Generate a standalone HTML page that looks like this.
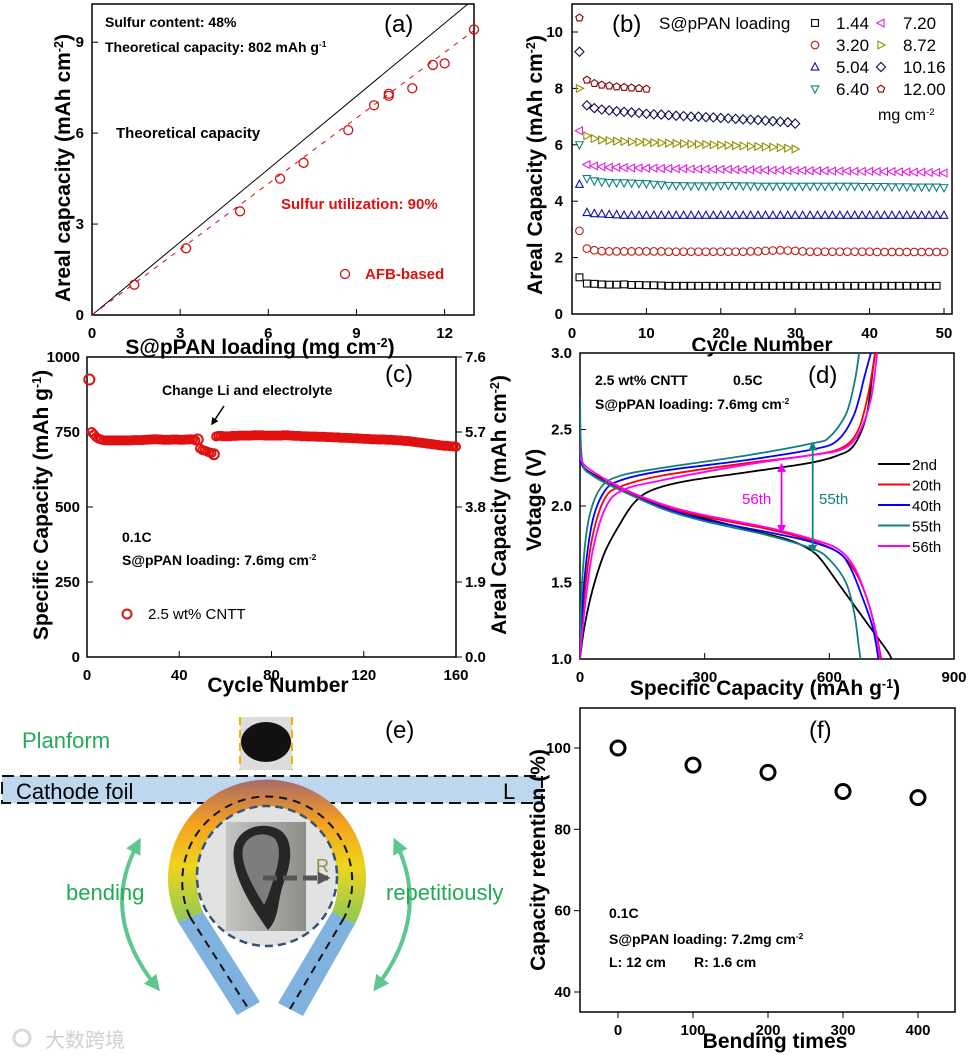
<!DOCTYPE html>
<html><head><meta charset="utf-8"><style>
html,body{margin:0;padding:0;background:#fff;}
svg{display:block;font-family:"Liberation Sans","Noto Sans CJK SC",sans-serif;}
.tk{font-weight:bold;font-size:15px;}
.ti{font-weight:bold;font-size:21px;}
</style></head><body>
<svg id="fig" width="970" height="1055" viewBox="0 0 970 1055" xmlns="http://www.w3.org/2000/svg">
<defs>
<linearGradient id="ringGrad" x1="0" y1="0" x2="0" y2="1">
<stop offset="0" stop-color="#a86a6a"/><stop offset="0.3" stop-color="#f5a020"/><stop offset="0.6" stop-color="#eed51c"/><stop offset="1" stop-color="#8cc85a"/>
</linearGradient>
<linearGradient id="imgGrad" x1="0" y1="0" x2="1" y2="0">
<stop offset="0" stop-color="#c4c4c2"/><stop offset="1" stop-color="#8d8d88"/>
</linearGradient>
<marker id="ahG" viewBox="0 0 10 10" refX="5" refY="5" markerWidth="4" markerHeight="4" orient="auto-start-reverse"><path d="M0,0L10,5L0,10z" fill="#5cc890"/></marker>
<marker id="ahM" viewBox="0 0 10 10" refX="8" refY="5" markerWidth="5" markerHeight="5" orient="auto-start-reverse"><path d="M0,0L10,5L0,10z" fill="#ee00ee"/></marker>
<marker id="ahT" viewBox="0 0 10 10" refX="8" refY="5" markerWidth="5" markerHeight="5" orient="auto-start-reverse"><path d="M0,0L10,5L0,10z" fill="#108080"/></marker>
<marker id="ahK" viewBox="0 0 10 10" refX="8" refY="5" markerWidth="5" markerHeight="5" orient="auto"><path d="M0,0L10,5L0,10z" fill="#000"/></marker>
<marker id="ahR" viewBox="0 0 10 10" refX="8" refY="5" markerWidth="2.6" markerHeight="2.6" orient="auto"><path d="M0,0L10,5L0,10z" fill="#555"/></marker>
</defs>

<g>
<text x="22" y="748" font-size="22" fill="#22aa55">Planform</text>
<text x="385" y="738" font-size="24">(e)</text>
<rect x="240" y="717" width="52" height="53" fill="#dcdcdc"/>
<ellipse cx="266" cy="742" rx="25" ry="20" fill="#111"/>
<line x1="240" y1="717" x2="240" y2="770" stroke="#f0b400" stroke-width="2" stroke-dasharray="8,5"/>
<line x1="292" y1="717" x2="292" y2="770" stroke="#f0b400" stroke-width="2" stroke-dasharray="8,5"/>
<rect x="2" y="776" width="540" height="27" fill="#bcd7ee" stroke="#111" stroke-width="2" stroke-dasharray="12,6"/>
<text x="16" y="799" font-size="22">Cathode foil</text>
<text x="503" y="799" font-size="22">L</text>
<polygon points="178,922 203,912 260,1002 237,1015" fill="#7fb2de"/>
<polygon points="355,924 332,912 278,1003 303,1016" fill="#7fb2de"/>
<path d="M178,922 A99,99 0 1 1 355,924 L332,912 A70,70 0 1 0 203,912 Z" fill="url(#ringGrad)"/>
<path d="M190,917 A85,85 0 1 1 344,918" fill="none" stroke="#111" stroke-width="2" stroke-dasharray="8,6"/>
<line x1="190" y1="917" x2="248" y2="1008" stroke="#111" stroke-width="2" stroke-dasharray="8,6"/>
<line x1="344" y1="918" x2="290" y2="1009" stroke="#111" stroke-width="2" stroke-dasharray="8,6"/>
<circle cx="267" cy="876" r="70" fill="#e2e2e2" stroke="#36527a" stroke-width="2.5" stroke-dasharray="8,5"/>
<rect x="226" y="822" width="80" height="109" fill="url(#imgGrad)"/>
<path d="M268,930 C250,905 230,872 234,848 C238,828 262,820 280,830 C294,840 292,862 284,882 C277,900 280,918 268,930 Z" fill="#262626"/>
<path d="M264,905 C250,882 240,862 243,848 C247,834 264,831 274,838 C282,846 279,862 274,878 C270,890 268,898 264,905 Z" fill="#7d7d7b"/>
<line x1="263" y1="878" x2="328" y2="878" stroke="#555" stroke-width="5" stroke-dasharray="14,6" marker-end="url(#ahR)"/>
<text x="316" y="872" font-size="18" fill="#9a8a40">R</text>
<path d="M137,845 Q100,915 155,985" fill="none" stroke="#5cc890" stroke-width="4" marker-start="url(#ahG)" marker-end="url(#ahG)"/>
<path d="M397,845 Q430,915 378,985" fill="none" stroke="#5cc890" stroke-width="4" marker-start="url(#ahG)" marker-end="url(#ahG)"/>
<text x="66" y="900" font-size="22" fill="#22aa55">bending</text>
<text x="386" y="900" font-size="22" fill="#22aa55">repetitiously</text>
<text x="45" y="1047" font-size="20" fill="#d0d0d0">大数跨境</text>
<circle cx="22" cy="1038" r="8" fill="none" stroke="#d8d8d8" stroke-width="3"/>
</g>
</svg>
<script>
// ---------- Panel (a) data ----------
const aLoading = [1.44,3.2,5.04,6.4,7.2,8.72,9.6,10.1,10.1,10.9,11.6,12.0,13.0];
const aCapacity = [1.0,2.2,3.42,4.5,5.02,6.1,6.92,7.23,7.3,7.48,8.25,8.3,9.42];
const aTheoSlope = [0.802];
const aFitSlope = [0.722];
const aXTicks = [0,3,6,9,12];
const aYTicks = [0,3,6,9];
// ---------- Panel (b) data ----------
const bLoadings = ["1.44","3.20","5.04","6.40","7.20","8.72","10.16","12.00"];
const b144 = [1.3,1.08,1.07,1.05,1.04,1.04,1.05,1.03,1.03,1.02,1.02,1.01,1.0,1.0,1.0,1.0,1.0,1.0,1.0,1.0,1.0,1.0,1.0,1.0,1.0,1.0,1.0,1.0,1.0,1.0,1.0,1.0,1.0,1.0,1.0,1.0,1.0,1.0,1.0,1.0,1.0,1.0,1.0,1.0,1.0,1.0,1.0,1.0,1.0];
const b320 = [2.95,2.32,2.26,2.23,2.22,2.22,2.22,2.22,2.22,2.22,2.22,2.22,2.21,2.21,2.21,2.21,2.21,2.21,2.21,2.21,2.21,2.21,2.21,2.22,2.22,2.24,2.25,2.26,2.25,2.24,2.22,2.21,2.21,2.21,2.21,2.21,2.21,2.21,2.21,2.21,2.2,2.2,2.2,2.2,2.2,2.2,2.2,2.2,2.2,2.2];
const b504 = [4.6,3.6,3.56,3.55,3.53,3.52,3.5,3.5,3.5,3.5,3.5,3.5,3.5,3.5,3.5,3.5,3.5,3.5,3.5,3.5,3.5,3.5,3.5,3.5,3.5,3.5,3.5,3.5,3.5,3.5,3.5,3.5,3.5,3.5,3.5,3.5,3.5,3.5,3.5,3.5,3.5,3.5,3.5,3.5,3.5,3.5,3.5,3.5,3.5,3.5];
const b640 = [6.0,4.8,4.72,4.68,4.66,4.65,4.65,4.64,4.63,4.62,4.6,4.58,4.56,4.55,4.55,4.54,4.54,4.54,4.54,4.55,4.56,4.55,4.54,4.54,4.53,4.53,4.53,4.53,4.53,4.53,4.53,4.53,4.53,4.53,4.53,4.53,4.53,4.53,4.52,4.52,4.52,4.52,4.51,4.51,4.51,4.5,4.5,4.5,4.5,4.48];
const b720 = [6.5,5.3,5.25,5.22,5.2,5.2,5.19,5.18,5.18,5.17,5.17,5.16,5.16,5.15,5.15,5.14,5.14,5.14,5.13,5.13,5.13,5.12,5.12,5.11,5.11,5.1,5.1,5.1,5.09,5.09,5.09,5.08,5.08,5.08,5.07,5.07,5.07,5.06,5.06,5.06,5.05,5.05,5.05,5.04,5.04,5.03,5.03,5.02,5.02,5.0];
const b872 = [8.0,6.32,6.22,6.17,6.15,6.13,6.12,6.11,6.1,6.09,6.08,6.07,6.06,6.05,6.04,6.03,6.02,6.01,6.0,5.99,5.98,5.97,5.96,5.95,5.94,5.93,5.92,5.9,5.88,5.85];
const b1016 = [9.3,7.4,7.3,7.25,7.22,7.19,7.17,7.15,7.13,7.1,7.08,7.07,7.05,7.03,7.02,7.0,7.0,6.98,6.97,6.95,6.94,6.92,6.9,6.89,6.88,6.86,6.84,6.82,6.8,6.75];
const b1200 = [10.5,8.3,8.18,8.12,8.09,8.06,8.04,8.02,8.0,7.98];
const bXTicks = [0,10,20,30,40,50];
const bYTicks = [0,2,4,6,8,10];
// ---------- Panel (c) data ----------
const cCapacity = [925,750,742,733,728,725,723,722,722,722,
722,722,722,722,722,722,722,722,722,723,
723,723,723,723,724,724,725,725,726,726,
725,725,724,724,724,724,725,725,725,724,
724,724,725,725,726,725,722,725,695,690,
688,685,682,680,676,735,737,737,736,736,
736,736,737,737,737,738,738,738,738,738,
738,739,739,739,739,739,738,738,738,738,
738,738,738,738,739,739,739,738,738,737,
737,737,736,736,736,735,735,735,735,734,
734,734,734,733,733,733,732,732,732,731,
731,731,730,730,729,729,729,728,728,727,
727,727,726,726,726,725,725,725,725,724,
724,724,723,723,722,722,721,720,720,719,
718,717,716,715,714,713,712,711,710,709,
708,707,706,705,704,704,703,702,702,701];
const cXTicks = [0,40,80,120,160];
const cYTicks = [0,250,500,750,1000];
const cRightTicks = ["0.0","1.9","3.8","5.7","7.6"];
// ---------- Panel (d) data ----------
const dCycles = ["2nd","20th","40th","55th","56th"];
const dColors = ["#000000","#ff0000","#0000ff","#108080","#ff00ff"];
const dDisCap = [
 [0,10,50,100,200,300,400,500,550,580,620,660,700,740,750],
 [0,20,100,200,300,450,550,620,660,690,710,725],
 [0,20,100,200,300,450,550,620,650,680,705,718],
 [0,5,30,100,200,300,450,560,600,640,660,670,675],
 [0,10,100,200,300,450,550,620,660,690,710,722]];
const dDisV = [
 [2.35,2.25,2.18,2.1,2.0,1.92,1.85,1.78,1.72,1.65,1.5,1.35,1.2,1.05,1.0],
 [2.3,2.22,2.11,2.0,1.93,1.85,1.78,1.7,1.58,1.4,1.2,1.0],
 [2.3,2.22,2.1,1.99,1.91,1.83,1.77,1.7,1.6,1.4,1.2,1.0],
 [2.7,2.3,2.2,2.1,1.98,1.9,1.81,1.72,1.65,1.5,1.3,1.1,1.0],
 [2.4,2.27,2.12,2.01,1.94,1.86,1.79,1.72,1.6,1.4,1.2,1.0]];
const dChgCap = [
 [0,10,30,60,100,130,170,250,400,550,620,660,690,705,710],
 [0,10,30,60,100,200,400,550,630,670,695,710],
 [0,10,30,60,100,200,400,560,620,660,685,700],
 [0,5,20,50,100,200,400,560,600,640,660,672],
 [0,10,30,60,100,200,400,550,630,670,700,715]];
const dChgV = [
 [1.0,1.2,1.45,1.7,1.9,2.02,2.1,2.16,2.22,2.28,2.33,2.4,2.6,2.9,3.0],
 [1.0,1.4,1.8,2.05,2.13,2.2,2.28,2.33,2.38,2.5,2.75,3.0],
 [1.0,1.5,1.9,2.1,2.17,2.23,2.3,2.37,2.43,2.6,2.85,3.0],
 [1.0,1.5,1.9,2.12,2.2,2.25,2.33,2.41,2.45,2.6,2.8,3.0],
 [1.0,1.3,1.7,1.98,2.1,2.17,2.27,2.33,2.37,2.47,2.7,3.0]];
const dArrowCap = [485,560];
const dArrowTop = [2.27,2.41];
const dArrowBot = [1.83,1.7];
const dXTicks = [0,300,600,900];
const dYTicks = ["1.0","1.5","2.0","2.5","3.0"];
// ---------- Panel (f) data ----------
const fBending = [0,100,200,300,400];
const fRetention = [100,95.8,94,89.3,87.8];
const fXTicks = [0,100,200,300,400];
const fYTicks = [40,60,80,100];

const NS = "http://www.w3.org/2000/svg";
const svg = document.getElementById('fig');
function mk(tag, attrs, parent){ const e=document.createElementNS(NS,tag); for(const k in attrs) e.setAttribute(k,attrs[k]); (parent||svg).appendChild(e); return e; }
function txt(x,y,s,attrs,parent){ const e=mk('text',Object.assign({x:x,y:y},attrs||{}),parent); e.textContent=s; return e; }
function lin(d0,d1,r0,r1){ return v=>r0+(v-d0)/(d1-d0)*(r1-r0); }
function sup(e,s){ const t=document.createElementNS(NS,'tspan'); t.setAttribute('baseline-shift','super'); t.setAttribute('font-size','0.6em'); t.textContent=s; e.appendChild(t); }
function tsp(e,s){ const t=document.createElementNS(NS,'tspan'); t.textContent=s; e.appendChild(t); }
function frame(g,x0,y0,x1,y1){ const r=mk('rect',{x:x0,y:y0,width:x1-x0,height:y1-y0,fill:'none',stroke:'#000','stroke-width':1.5},g);   }

// ===== Panel a =====
(function(){
 const g=mk('g',{});  
 const X=lin(0,13,92,474), Y=lin(0,10.26,315,4);
 frame(g,92,4,474,315);
 aXTicks.forEach(t=>{ mk('line',{x1:X(t),y1:315,x2:X(t),y2:309,stroke:'#000'},g); const e=txt(X(t),338,String(t),{'text-anchor':'middle',class:'tk'},g);   });
 aYTicks.forEach(t=>{ mk('line',{x1:92,y1:Y(t),x2:98,y2:Y(t),stroke:'#000'},g); const e=txt(84,Y(t)+5,String(t),{'text-anchor':'end',class:'tk'},g);   });
 const xe=Math.min(13,10.26/aTheoSlope[0]);
 const tl=mk('line',{x1:X(0),y1:Y(0),x2:X(xe),y2:Y(aTheoSlope[0]*xe),stroke:'#000','stroke-width':1},g);
  
 const fl=mk('line',{x1:X(0),y1:Y(0),x2:X(13),y2:Y(aFitSlope[0]*13),stroke:'#d01010','stroke-width':1,'stroke-dasharray':'5,6'},g);
  
 aLoading.forEach((v,i)=>{ const c=mk('circle',{cx:X(v),cy:Y(aCapacity[i]),r:4.5,fill:'none',stroke:'#d01010','stroke-width':1.3},g);
    });
 let e=txt(105,27,'Sulfur content: 48%',{'font-size':14,'font-weight':'bold'},g);  
 e=txt(105,52,'Theoretical capacity: 802 mAh g',{'font-size':14,'font-weight':'bold'},g); sup(e,'-1');  
 e=txt(384,32,'(a)',{'font-size':24},g);  
 e=txt(116,138,'Theoretical capacity',{'font-size':15,'font-weight':'bold'},g);  
 e=txt(281,209,'Sulfur utilization: 90%',{'font-size':15,'font-weight':'bold',fill:'#e01010'},g);  
 mk('circle',{cx:345,cy:274,r:4.5,fill:'none',stroke:'#d01010','stroke-width':1.3},g);
 e=txt(365,279,'AFB-based',{'font-size':15,'font-weight':'bold',fill:'#e01010'},g);  
 e=txt(0,0,'Areal capcacity (mAh cm',{class:'ti','text-anchor':'middle',transform:'translate(70,168) rotate(-90)'},g); sup(e,'-2'); tsp(e,')');  
 e=txt(260,354,'S@pPAN loading (mg cm',{class:'ti','text-anchor':'middle'},g); sup(e,'-2'); tsp(e,')');  
})();

// ===== Panel b =====
(function(){
 const g=mk('g',{});  
 const X=lin(0,50,572,944), Y=lin(0,10,314,32);
 frame(g,572,4,952,314);
 bXTicks.forEach(t=>{ mk('line',{x1:X(t),y1:314,x2:X(t),y2:308,stroke:'#000'},g); const e=txt(X(t),338,String(t),{'text-anchor':'middle',class:'tk'},g);   });
 bYTicks.forEach(t=>{ mk('line',{x1:572,y1:Y(t),x2:578,y2:Y(t),stroke:'#000'},g); const e=txt(563,Y(t)+5,String(t),{'text-anchor':'end',class:'tk'},g);   });
 const series=[b144,b320,b504,b640,b720,b872,b1016,b1200];
 const cols=['#000','#c01818','#1010b0','#108080','#e020e0','#909000','#101050','#800000'];
 function shape(kind,x,y,col,parent){
  const s=3.8; let p;
  if(kind===0) p=mk('rect',{x:x-s*0.9,y:y-s*0.9,width:s*1.8,height:s*1.8},parent);
  else if(kind===1) p=mk('circle',{cx:x,cy:y,r:s},parent);
  else { let pts;
   if(kind===2) pts=[[0,-s*1.1],[s,s*0.8],[-s,s*0.8]];
   else if(kind===3) pts=[[0,s*1.1],[s,-s*0.8],[-s,-s*0.8]];
   else if(kind===4) pts=[[-s*1.1,0],[s*0.8,-s],[s*0.8,s]];
   else if(kind===5) pts=[[s*1.1,0],[-s*0.8,-s],[-s*0.8,s]];
   else if(kind===6) pts=[[0,-s*1.2],[s*1.2,0],[0,s*1.2],[-s*1.2,0]];
   else { pts=[]; for(let k=0;k<5;k++){const a=-Math.PI/2+k*2*Math.PI/5; pts.push([s*Math.cos(a),s*Math.sin(a)]);} }
   p=mk('polygon',{points:pts.map(q=>(x+q[0])+','+(y+q[1])).join(' ')},parent); }
  p.setAttribute('fill','none'); p.setAttribute('stroke',col); p.setAttribute('stroke-width','1.1');
  return p; }
 series.forEach((arr,si)=>{ const sg=mk('g',{},g);
   
  arr.forEach((v,i)=>{ const m=shape(si,X(i+1),Y(v),cols[si],sg);   }); });
 let e=txt(612,32,'(b)',{'font-size':24},g);  
 e=txt(659,29,'S@pPAN loading',{'font-size':17},g);  
 bLoadings.forEach((lab,i)=>{ const col=i<4?0:1, row=i%4; const mx=col?881:815, ty=23+row*22;
  const lg=mk('g',{},g);  
  shape(i,mx,ty,cols[i],lg); txt(col?903:836,ty+6,lab,{'font-size':17},lg); });
 e=txt(878,120,'mg cm',{'font-size':16},g); sup(e,'-2');  
 e=txt(0,0,'Areal Capacity (mAh cm',{class:'ti','text-anchor':'middle',transform:'translate(542,165) rotate(-90)'},g); sup(e,'-2'); tsp(e,')');  
 e=txt(762,352,'Cycle Number',{class:'ti','text-anchor':'middle'},g);  
})();

// ===== Panel c =====
(function(){
 const g=mk('g',{});  
 const X=lin(0,160,87,456), Y=lin(0,1000,657,357);
 frame(g,87,357,456,657);
 cXTicks.forEach(t=>{ mk('line',{x1:X(t),y1:657,x2:X(t),y2:651,stroke:'#000'},g); const e=txt(X(t),680,String(t),{'text-anchor':'middle',class:'tk'},g);   });
 cYTicks.forEach((t,i)=>{ mk('line',{x1:87,y1:Y(t),x2:93,y2:Y(t),stroke:'#000'},g); mk('line',{x1:456,y1:Y(t),x2:462,y2:Y(t),stroke:'#000'},g);
  let e=txt(80,Y(t)+5,String(t),{'text-anchor':'end',class:'tk'},g);  
  e=txt(465,Y(t)+5,cRightTicks[i],{class:'tk'},g);   });
 const sg=mk('g',{},g);  
 cCapacity.forEach((v,i)=>{ const c=mk('circle',{cx:X(i+1),cy:Y(v),r:(i===0||i===47||i===54)?5:4,fill:'none',stroke:'#e01010','stroke-width':2},sg);
    });
 let e=txt(385,382,'(c)',{'font-size':24},g);  
 e=txt(162,395,'Change Li and electrolyte',{'font-size':14,'font-weight':'bold'},g);  
 const ar=mk('line',{x1:224,y1:406,x2:212,y2:424,stroke:'#000','stroke-width':1.5,'marker-end':'url(#ahK)'},g);  
 e=txt(122,542,'0.1C',{'font-size':14,'font-weight':'bold'},g);  
 e=txt(122,565,'S@pPAN loading: 7.6mg cm',{'font-size':14,'font-weight':'bold'},g); sup(e,'-2');  
 mk('circle',{cx:127,cy:614,r:4.5,fill:'none',stroke:'#e01010','stroke-width':2},g);
 e=txt(148,619,'2.5 wt% CNTT',{'font-size':15},g);  
 e=txt(0,0,'Specific Capacity (mAh g',{class:'ti','text-anchor':'middle',transform:'translate(48,505) rotate(-90)'},g); sup(e,'-1'); tsp(e,')');  
 e=txt(0,0,'Areal Capacity (mAh cm',{class:'ti','text-anchor':'middle',transform:'translate(506,505) rotate(-90)'},g); sup(e,'-2'); tsp(e,')');  
 e=txt(278,692,'Cycle Number',{class:'ti','text-anchor':'middle'},g);  
})();

// ===== Panel d =====
(function(){
 const g=mk('g',{});  
 mk('rect',{x:580,y:351,width:380,height:2,fill:'#fff'},g);
 const X=lin(0,900,580,954), Y=lin(1,3,659,353);
 frame(g,580,353,954,659);
 dXTicks.forEach(t=>{ mk('line',{x1:X(t),y1:659,x2:X(t),y2:653,stroke:'#000'},g); const e=txt(X(t),682,String(t),{'text-anchor':'middle',class:'tk'},g);   });
 dYTicks.forEach(t=>{ const v=parseFloat(t); mk('line',{x1:580,y1:Y(v),x2:586,y2:Y(v),stroke:'#000'},g); const e=txt(572,Y(v)+5,t,{'text-anchor':'end',class:'tk'},g);   });
 const cp=mk('clipPath',{id:'dclip'},g); mk('rect',{x:580,y:353,width:374,height:306},cp);
 const cg=mk('g',{'clip-path':'url(#dclip)'},g);
 function smooth(xs,ys){ const p=xs.map((x,i)=>[X(x),Y(ys[i])]); let d='M'+p[0][0]+','+p[0][1];
  for(let i=0;i<p.length-1;i++){ const p0=p[Math.max(0,i-1)],p1=p[i],p2=p[i+1],p3=p[Math.min(p.length-1,i+2)];
   d+=' C'+(p1[0]+(p2[0]-p0[0])/6)+','+(p1[1]+(p2[1]-p0[1])/6)+' '+(p2[0]-(p3[0]-p1[0])/6)+','+(p2[1]-(p3[1]-p1[1])/6)+' '+p2[0]+','+p2[1]; }
  return d; }
 dCycles.forEach((c,i)=>{
  const a=mk('path',{d:smooth(dDisCap[i],dDisV[i]),fill:'none',stroke:dColors[i],'stroke-width':1.8},cg);
   
  const b=mk('path',{d:smooth(dChgCap[i],dChgV[i]),fill:'none',stroke:dColors[i],'stroke-width':1.8},cg);
    });
 const am=mk('line',{x1:X(dArrowCap[0]),y1:Y(dArrowTop[0]),x2:X(dArrowCap[0]),y2:Y(dArrowBot[0]),stroke:'#ee00ee','stroke-width':1.8,'marker-start':'url(#ahM)','marker-end':'url(#ahM)'},g);
  
 const at=mk('line',{x1:X(dArrowCap[1]),y1:Y(dArrowTop[1]),x2:X(dArrowCap[1]),y2:Y(dArrowBot[1]),stroke:'#108080','stroke-width':1.8,'marker-start':'url(#ahT)','marker-end':'url(#ahT)'},g);
  
 let e=txt(742,504,'56th',{'font-size':15,fill:'#ee00ee'},g);  
 e=txt(819,504,'55th',{'font-size':15,fill:'#108080'},g);  
 dCycles.forEach((c,i)=>{ const y=464+i*20.5; const lg=mk('g',{},g);  
  mk('line',{x1:878,y1:y,x2:910,y2:y,stroke:dColors[i],'stroke-width':2},lg); txt(912,y+6,c,{'font-size':15},lg); });
 e=txt(808,383,'(d)',{'font-size':24},g);  
 e=txt(595,385,'2.5 wt% CNTT',{'font-size':14,'font-weight':'bold'},g);  
 e=txt(733,385,'0.5C',{'font-size':14,'font-weight':'bold'},g);  
 e=txt(595,409,'S@pPAN loading: 7.6mg cm',{'font-size':14,'font-weight':'bold'},g); sup(e,'-2');  
 e=txt(0,0,'Votage (V)',{class:'ti','text-anchor':'middle',transform:'translate(541,500) rotate(-90)'},g);  
 e=txt(765,695,'Specific Capacity (mAh g',{class:'ti','text-anchor':'middle'},g); sup(e,'-1'); tsp(e,')');  
})();

// ===== Panel f =====
(function(){
 const g=mk('g',{});  
 mk('rect',{x:560,y:702,width:400,height:6,fill:'#fff'},g);
 const X=lin(0,400,618,918), Y=lin(40,100,992,748);
 frame(g,580,708,955,1012);
 fXTicks.forEach(t=>{ mk('line',{x1:X(t),y1:1012,x2:X(t),y2:1018,stroke:'#000'},g); const e=txt(X(t),1035,String(t),{'text-anchor':'middle',class:'tk'},g);   });
 fYTicks.forEach(t=>{ mk('line',{x1:574,y1:Y(t),x2:580,y2:Y(t),stroke:'#000'},g); const e=txt(571,Y(t)+5,String(t),{'text-anchor':'end',class:'tk'},g);   });
 fBending.forEach((b,i)=>{ const c=mk('circle',{cx:X(b),cy:Y(fRetention[i]),r:7,fill:'none',stroke:'#000','stroke-width':3},g);
    });
 let e=txt(809,738,'(f)',{'font-size':24},g);  
 e=txt(609,918,'0.1C',{'font-size':14,'font-weight':'bold'},g);  
 e=txt(609,944,'S@pPAN loading: 7.2mg cm',{'font-size':14,'font-weight':'bold'},g); sup(e,'-2');  
 e=txt(609,967,'L: 12 cm',{'font-size':14,'font-weight':'bold'},g);  
 e=txt(694,967,'R: 1.6 cm',{'font-size':14,'font-weight':'bold'},g);  
 e=txt(0,0,'Capacity retention (%)',{class:'ti','text-anchor':'middle',transform:'translate(545,860) rotate(-90)'},g);  
 e=txt(775,1048,'Bending times',{class:'ti','text-anchor':'middle'},g);  
})();
</script>
</body></html>
